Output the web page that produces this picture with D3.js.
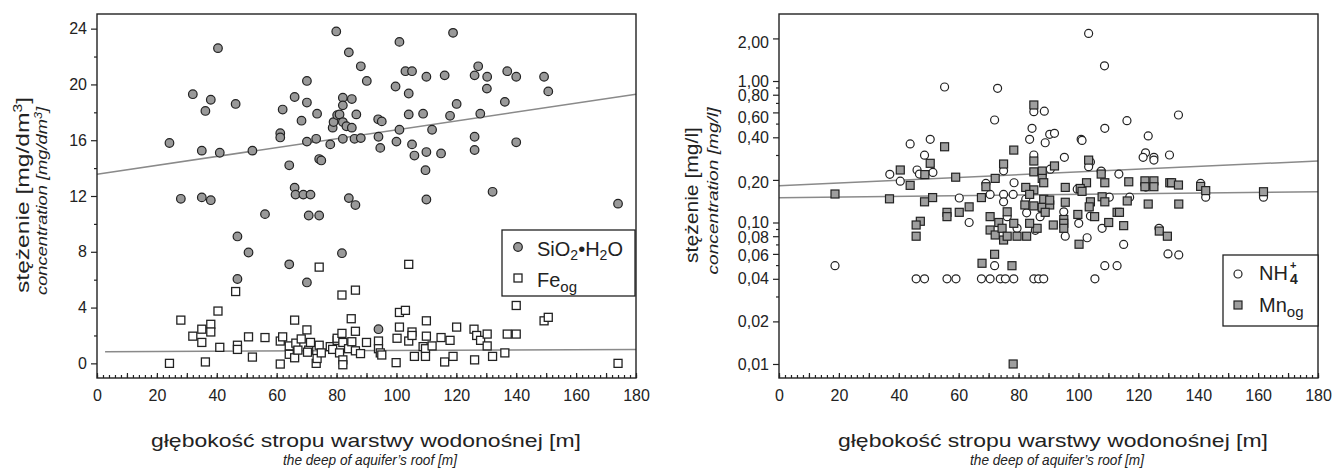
<!DOCTYPE html>
<html>
<head>
<meta charset="utf-8">
<script src="https://cdn.jsdelivr.net/npm/d3@7"></script>
<style>
  body { margin: 0; background: #fff; }
  svg { display: block; font-family: "Liberation Sans", Arial, sans-serif; }
  .tick text { font-size: 16px; fill: #222; }
</style>
</head>
<body>
<svg width="1336" height="468"></svg>
<script>
// ---- data ----
const xTicks = [0, 20, 40, 60, 80, 100, 120, 140, 160, 180];
const yTicksLeft = [0, 4, 8, 12, 16, 20, 24];
const yMinorLeft = [2, 6, 10, 14, 18, 22];
const yTicksRight = [0.01, 0.02, 0.04, 0.06, 0.08, 0.1, 0.2, 0.4, 0.6, 0.8, 1, 2];
const yMinorRight = [0.03, 0.05, 0.07, 0.09, 0.3, 0.5, 0.7, 0.9];

// [depth m, SiO2 mg/dm3]
const sio2 = [[24.2,15.8],[28.0,11.8],[32.0,19.3],[35.0,15.25],[35.0,11.9],[36.2,18.1],[38.0,18.9],[38.0,11.7],[40.4,22.6],[41.0,15.1],[46.3,18.6],[46.9,9.1],[51.9,15.25],[56.1,10.7],[61.2,16.5],[61.2,16.2],[62.0,18.2],[64.2,14.2],[66.0,19.1],[66.0,12.6],[66.3,12.1],[68.3,17.4],[68.9,12.1],[70.1,20.25],[70.1,18.7],[70.1,15.9],[70.7,10.6],[71.3,12.1],[73.2,16.1],[73.5,17.9],[74.2,14.65],[74.9,14.55],[74.2,10.6],[77.9,15.7],[78.7,16.9],[79.0,17.3],[79.9,23.8],[80.2,17.8],
  [84.1,22.3],[101.0,23.05],[118.9,23.7],[88.1,21.3],[90.1,20.25],[103.0,20.95],[105.2,20.95],[110.0,20.55],[116.1,20.65],[127.3,21.3],[126.1,20.65],[130.3,20.55],[137.0,20.95],[140.0,20.55],[149.3,20.55],[150.7,19.5],[130.2,19.7],[99.7,19.85],[104.1,19.35],[82.1,19.05],[85.1,18.95],[82.1,18.5],[81.0,17.85],[86.6,17.85],[82.1,17.3],[83.3,17.0],[85.1,16.9],[93.9,17.5],[95.1,17.35],[104.1,17.85],[108.9,17.9],[117.9,17.75],[120.1,18.6],[128.0,17.9],[136.2,18.75],[101.0,16.75],[111.9,16.75],[82.1,16.1],[86.0,16.1],[88.1,16.15],[94.0,16.25],[94.6,15.45],[100.0,15.9],[105.2,15.7],[106.0,14.9],[110.0,15.15],[114.9,15.05],[109.7,13.85],[126.1,16.25],[126.1,15.3],[140.0,15.85],[132.1,12.3],[84.1,11.85],[86.3,11.35],[110.0,11.75],[174.0,11.45],
  [50.6,7.95],[46.9,6.05],[64.2,7.1],[70.1,5.8],[81.8,7.9],[94.0,2.45]];

// [depth m, Fe mg/dm3]
const fe = [[24.2,0.0],[28.0,3.1],[32.0,1.95],[35.0,2.45],[35.0,1.5],[36.2,0.1],[38.0,2.8],[38.0,2.25],[40.4,3.75],[41.0,1.15],[46.3,5.15],[46.9,1.3],[46.9,1.0],[50.6,1.9],[51.9,0.45],[56.1,1.85],[61.2,1.6],[62.0,1.9],[61.2,-0.05],[64.2,1.25],[64.2,0.65],[66.0,3.1],[66.0,0.4],[66.4,1.45],[67.1,0.95],[68.2,1.75],[70.1,2.4],[70.7,0.95],[71.3,1.5],[73.2,0.0],[73.5,0.35],[74.2,1.3],[74.2,6.9],[74.9,0.75],[77.9,1.2],[78.7,1.0],[80.2,1.65],[81.8,4.9],[86.3,5.25],[84.9,3.2],[86.3,2.3],[70.3,0.8],[80.2,1.8],[81.0,0.75],[81.8,2.15],[82.1,1.5],[82.1,0.25],[82.1,-0.1],[84.0,1.05],[85.1,1.55],[86.3,0.9],[88.0,0.7],[90.0,1.5],[94.0,1.6],[94.0,1.05],[94.6,0.75],[95.1,0.6],[99.9,0.05],[100.2,1.8],[101.0,2.6],[101.0,3.65],[103.0,3.8],[104.1,7.1],[104.1,1.6],[105.2,2.25],[105.2,2.0],[106.0,0.5],[108.9,1.2],[110.0,3.05],[110.0,1.95],[109.7,1.05],[109.7,0.5],[111.9,1.25],[114.9,1.85],[116.1,0.1],[117.9,1.65],[118.9,0.5],[120.1,2.6],[125.9,2.45],[126.1,0.25],[126.8,2.0],[128.1,1.65],[130.3,2.1],[130.3,1.25],[132.1,0.5],[136.2,0.75],[137.0,2.1],[140.0,2.1],[140.0,4.15],[149.3,3.05],[150.7,3.3],[174.0,0.0]];

// [depth m, NH4 mg/l]
const nh4 = [[18.7,0.0495],[37.0,0.219],[40.5,0.196],[43.8,0.359],[46.1,0.235],[46.9,0.220],[50.5,0.387],[48.6,0.299],[51.4,0.226],[55.3,0.907],[60.2,0.149],[63.5,0.100],[69.1,0.189],[70.5,0.158],[72.0,0.530],[73.0,0.888],[75.0,0.232],[75.0,0.158],[78.2,0.158],[75.0,0.140],[78.5,0.191],[76.2,0.110],[72.0,0.0495],
  [45.8,0.04],[48.6,0.04],[56.1,0.04],[59.1,0.04],[67.6,0.04],[70.5,0.04],[73.9,0.04],[75.6,0.04],[78.4,0.04],[85.1,0.04],[86.7,0.04],[88.4,0.04],[105.5,0.04],
  [85.1,0.607],[88.6,0.612],[116.2,0.524],[108.8,0.463],[84.5,0.463],[90.4,0.420],[92.0,0.427],[123.3,0.409],[83.7,0.387],[88.9,0.366],[100.9,0.387],[101.2,0.380],[85.1,0.300],[95.3,0.289],[104.0,0.268],[103.4,0.248],[122.4,0.311],[125.2,0.289],[121.6,0.289],[125.2,0.276],[130.4,0.300],[90.6,0.238],[107.6,0.231],[113.5,0.220],[122.2,0.185],[122.5,0.178],[99.6,0.172],[82.4,0.146],[82.7,0.117],[87.2,0.110],[95.1,0.119],[95.6,0.080],[104.0,0.111],[100.1,0.0987],[102.9,0.078],[110.3,0.151],[107.9,0.091],[115.1,0.070],[117.1,0.151],[108.8,0.0495],[112.9,0.0495],[126.9,0.091],[129.9,0.060],[133.5,0.059],[79.5,0.091],[85.6,0.088],[103.4,2.17],[108.7,1.28],[133.4,0.575],[140.8,0.189],[142.5,0.151],[161.8,0.151]];

// [depth m, Mn mg/l]
const mn = [[18.7,0.159],[36.9,0.147],[40.5,0.235],[43.8,0.183],[48.6,0.140],[48.7,0.218],[50.5,0.262],[51.3,0.150],[55.3,0.343],[59.0,0.209],[67.6,0.150],[69.1,0.179],[72.2,0.205],[56.1,0.118],[56.1,0.110],[60.2,0.118],[63.5,0.129],[47.2,0.102],[45.8,0.096],[45.8,0.080],[70.5,0.110],[73.4,0.100],[70.5,0.0885],[72.2,0.0816],[78.4,0.325],[75.0,0.259],[76.2,0.119],[78.4,0.0987],[74.5,0.091],[75.0,0.0752],[76.2,0.080],[79.5,0.080],[72.0,0.0596],[67.8,0.0515],[77.8,0.0495],
  [85.1,0.677],[85.1,0.272],[103.4,0.276],[92.0,0.251],[85.1,0.228],[87.9,0.231],[87.9,0.205],[88.4,0.191],[107.6,0.220],[108.8,0.191],[102.7,0.191],[116.8,0.194],[122.2,0.197],[125.2,0.197],[122.2,0.179],[125.2,0.179],[130.5,0.191],[82.4,0.177],[85.1,0.170],[83.7,0.158],[95.6,0.177],[100.6,0.174],[101.2,0.166],[82.1,0.133],[85.1,0.131],[87.9,0.128],[90.4,0.133],[88.4,0.146],[90.4,0.144],[88.9,0.118],[95.6,0.139],[95.1,0.105],[95.1,0.0987],[95.1,0.091],[104.0,0.140],[103.6,0.129],[105.4,0.110],[99.8,0.114],[100.2,0.0702],[107.9,0.152],[108.8,0.140],[112.9,0.118],[113.7,0.118],[110.1,0.100],[115.1,0.095],[116.3,0.142],[123.3,0.135],[127.0,0.087],[129.7,0.080],[82.7,0.080],[86.2,0.091],[83.7,0.0987],[91.6,0.096],[131.1,0.191],[133.4,0.184],[140.8,0.180],[142.5,0.168],[161.8,0.165],[133.5,0.135],[78.2,0.01]];

// trend lines [[x0,y0],[x1,y1]]
const sio2Fit = [[0, 13.56], [180, 19.3]];
const feFit = [[2.7, 0.83], [180, 1.0]];
const nh4Fit = [[0, 0.182], [180, 0.272]];
const mnFit = [[0, 0.1497], [180, 0.165]];

// ---- drawing ----
const svg = d3.select("svg");
const plotTop = 14, plotBottom = 378;

const xL = d3.scaleLinear().domain([0, 180]).range([97, 636]);
const yL = d3.scaleLinear().domain([-1.05, 25.05]).range([plotBottom, plotTop]);
const xR = d3.scaleLinear().domain([0, 180]).range([779, 1318]);
const yR = d3.scaleLog().domain([0.00796, 2.976]).range([plotBottom, plotTop]);

function frame(x) {
    svg.append("rect")
        .attr("x", x.range()[0]).attr("y", plotTop)
        .attr("width", x.range()[1] - x.range()[0])
        .attr("height", plotBottom - plotTop)
        .attr("fill", "none").attr("stroke", "#222").attr("stroke-width", 1.4);
}

function xAxis(x) {
    const minor = d3.range(0, 181, 2);
    svg.append("g").attr("transform", `translate(0,${plotBottom})`)
        .call(d3.axisBottom(x).tickValues(minor).tickSize(-3).tickFormat(""))
        .call(g => g.select(".domain").remove());
    svg.append("g").attr("transform", `translate(0,${plotBottom})`)
        .call(d3.axisBottom(x).tickValues(d3.range(0, 181, 10)).tickSize(-5).tickFormat(""))
        .call(g => g.select(".domain").remove());
    svg.append("g").attr("transform", `translate(0,${plotBottom})`)
        .call(d3.axisBottom(x).tickValues(xTicks).tickSize(0).tickPadding(12))
        .call(g => g.select(".domain").remove());
}

function yAxis(x, y, major, minorVals, fmt) {
    svg.append("g").attr("transform", `translate(${x.range()[0]},0)`)
        .call(d3.axisLeft(y).tickValues(minorVals).tickSize(3).tickFormat(""))
        .call(g => g.select(".domain").remove());
    return svg.append("g").attr("transform", `translate(${x.range()[0]},0)`)
        .call(d3.axisLeft(y).tickValues(major).tickSize(6).tickPadding(4).tickFormat(fmt))
        .call(g => g.select(".domain").remove());
}

// left panel
yAxis(xL, yL, yTicksLeft, yMinorLeft, d => d);
xAxis(xL);

const lineL = d3.line().x(d => xL(d[0])).y(d => yL(d[1]));
svg.append("path").attr("d", lineL(sio2Fit)).attr("stroke", "#8a8a8a").attr("stroke-width", 1.5).attr("fill", "none");
svg.append("path").attr("d", lineL(feFit)).attr("stroke", "#8a8a8a").attr("stroke-width", 1.5).attr("fill", "none");

svg.append("g").selectAll("rect").data(fe).enter().append("rect")
    .attr("x", d => xL(d[0]) - 4).attr("y", d => yL(d[1]) - 4)
    .attr("width", 8).attr("height", 8)
    .attr("fill", "#fff").attr("stroke", "#222").attr("stroke-width", 1.3);

svg.append("g").selectAll("circle").data(sio2).enter().append("circle")
    .attr("cx", d => xL(d[0])).attr("cy", d => yL(d[1])).attr("r", 4.3)
    .attr("fill", "#999").attr("stroke", "#222").attr("stroke-width", 1.2);

frame(xL);

// right panel
const labelShift = {2: 4, 0.8: 1, 0.6: 4.5, 0.2: 2, 0.08: 1, 0.06: 1.5};
yAxis(xR, yR, yTicksRight, yMinorRight, d => d.toFixed(2).replace(".", ","))
    .selectAll(".tick text").attr("y", d => labelShift[d] || 0);
xAxis(xR);

const lineR = d3.line().x(d => xR(d[0])).y(d => yR(d[1]));
svg.append("path").attr("d", lineR(nh4Fit)).attr("stroke", "#8a8a8a").attr("stroke-width", 1.5).attr("fill", "none");
svg.append("path").attr("d", lineR(mnFit)).attr("stroke", "#8a8a8a").attr("stroke-width", 1.5).attr("fill", "none");

svg.append("g").selectAll("circle").data(nh4).enter().append("circle")
    .attr("cx", d => xR(d[0])).attr("cy", d => yR(d[1])).attr("r", 4)
    .attr("fill", "#fff").attr("stroke", "#222").attr("stroke-width", 1.2);

svg.append("g").selectAll("rect").data(mn).enter().append("rect")
    .attr("x", d => xR(d[0]) - 4).attr("y", d => yR(d[1]) - 4)
    .attr("width", 8).attr("height", 8)
    .attr("fill", "#9e9e9e").attr("stroke", "#222").attr("stroke-width", 1.2);

frame(xR);

svg.selectAll(".tick line").attr("stroke", "#222").attr("stroke-width", 1.2);

// legends
function legendBox(x0, y0, w, h) {
    svg.append("rect").attr("x", x0).attr("y", y0).attr("width", w).attr("height", h)
        .attr("fill", "#fff").attr("stroke", "#222").attr("stroke-width", 1.3);
}
legendBox(502, 230, 133, 66);
svg.append("circle").attr("cx", 518).attr("cy", 247).attr("r", 4.3)
    .attr("fill", "#999").attr("stroke", "#222").attr("stroke-width", 1.2);
const t1 = svg.append("text").attr("x", 537).attr("y", 256).style("font-size", "20px").attr("fill", "#222");
t1.append("tspan").text("SiO");
t1.append("tspan").attr("dy", 4).style("font-size", "14px").text("2");
t1.append("tspan").attr("dy", -4).text("•H");
t1.append("tspan").attr("dy", 4).style("font-size", "14px").text("2");
t1.append("tspan").attr("dy", -4).text("O");
svg.append("rect").attr("x", 514).attr("y", 274).attr("width", 8).attr("height", 8)
    .attr("fill", "#fff").attr("stroke", "#222").attr("stroke-width", 1.3);
const t2 = svg.append("text").attr("x", 537).attr("y", 287).style("font-size", "20px").attr("fill", "#222");
t2.append("tspan").text("Fe");
t2.append("tspan").attr("dy", 5).style("font-size", "15px").text("og");

legendBox(1223, 255, 95, 71);
svg.append("circle").attr("cx", 1238).attr("cy", 274).attr("r", 4)
    .attr("fill", "#fff").attr("stroke", "#222").attr("stroke-width", 1.2);
svg.append("text").attr("x", 1259).attr("y", 280).style("font-size", "20px").attr("fill", "#222").text("NH");
svg.append("text").attr("x", 1290).attr("y", 269).style("font-size", "11px").style("font-weight", "bold").attr("fill", "#222").text("+");
svg.append("text").attr("x", 1290).attr("y", 284).style("font-size", "14px").style("font-weight", "bold").attr("fill", "#222").text("4");
svg.append("rect").attr("x", 1234).attr("y", 301).attr("width", 8).attr("height", 8)
    .attr("fill", "#9e9e9e").attr("stroke", "#222").attr("stroke-width", 1.2);
const t3 = svg.append("text").attr("x", 1259).attr("y", 312).style("font-size", "20px").attr("fill", "#222");
t3.append("tspan").text("Mn");
t3.append("tspan").attr("dy", 5).style("font-size", "15px").text("og");

// axis titles
function xTitle(cx) {
    svg.append("text").attr("x", cx).attr("y", 447).attr("text-anchor", "middle")
        .style("font-size", "19px").attr("fill", "#222")
        .attr("textLength", 430).attr("lengthAdjust", "spacingAndGlyphs")
        .text("głębokość stropu warstwy wodonośnej [m]");
    svg.append("text").attr("x", cx + 4).attr("y", 465).attr("text-anchor", "middle")
        .style("font-size", "14.5px").style("font-style", "italic").attr("fill", "#222")
        .attr("textLength", 174).attr("lengthAdjust", "spacingAndGlyphs")
        .text("the deep of aquifer’s roof [m]");
}
xTitle(366);
xTitle(1053);

function yTitle(x1, c1, len1, x2, c2, len2, unit, sup) {
    const a = svg.append("text").attr("transform", `translate(${x1},${c1}) rotate(-90)`)
        .attr("text-anchor", "middle").style("font-size", "19px").attr("fill", "#222")
        .attr("textLength", len1).attr("lengthAdjust", "spacingAndGlyphs");
    a.append("tspan").text("stężenie [" + unit);
    if (sup) a.append("tspan").attr("dy", -7).style("font-size", "12px").text(sup);
    a.append("tspan").attr("dy", sup ? 7 : 0).text("]");
    const b = svg.append("text").attr("transform", `translate(${x2},${c2}) rotate(-90)`)
        .attr("text-anchor", "middle").style("font-size", "14.5px").style("font-style", "italic").attr("fill", "#222")
        .attr("textLength", len2).attr("lengthAdjust", "spacingAndGlyphs");
    b.append("tspan").text("concentration [" + unit);
    if (sup) b.append("tspan").attr("dy", -5).style("font-size", "10px").text(sup);
    b.append("tspan").attr("dy", sup ? 5 : 0).text("]");
}
yTitle(29, 195, 196, 47, 201, 188, "mg/dm", "3");
yTitle(698, 195, 136, 718, 191, 167, "mg/l", null);
</script>
</body>
</html>
